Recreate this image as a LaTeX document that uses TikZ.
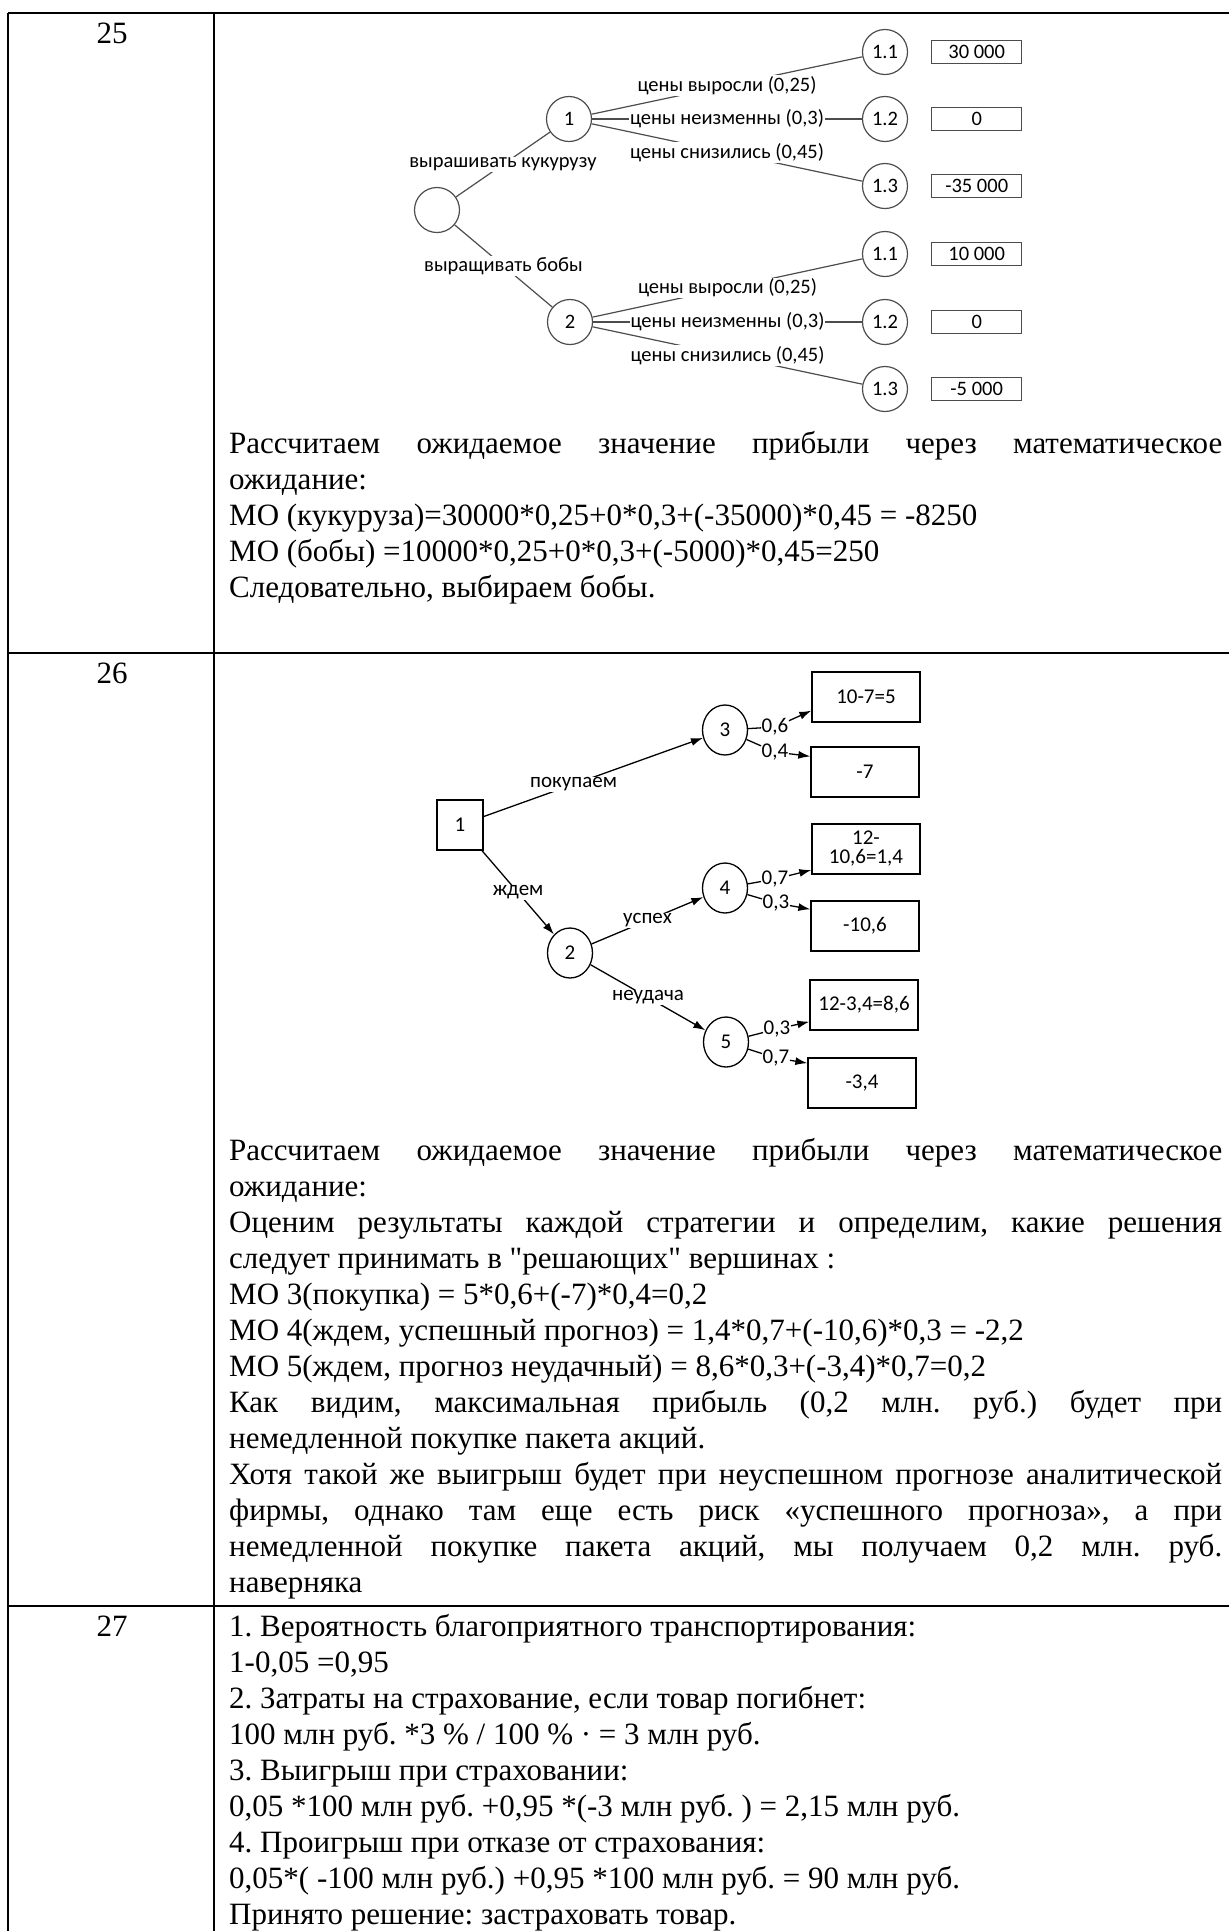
\documentclass[tikz,border=0pt]{standalone}
\usepackage{fontspec}
\setmainfont{Liberation Serif}
\newfontfamily\treefont{Carlito}
\usepackage{tikz}
\usetikzlibrary{positioning,shapes.geometric,arrows.meta}
\hyphenpenalty=10000
\exhyphenpenalty=10000
\frenchspacing

\begin{document}
\begin{tikzpicture}[x=1pt,y=-1pt,>={Latex[length=12pt,width=8pt]}]
    \tikzset{rule/.style={line width=2.6pt},
      rownum/.style={anchor=base,inner sep=0pt,font=\fontsize{31}{36}\selectfont},
      answer/.style={anchor=base west,inner sep=0pt,text width=993pt,align=justify,font=\fontsize{31}{36}\selectfont},
      chance/.style={draw=black!70,line width=1.2pt,circle,minimum size=45pt,inner sep=0pt},
      payoff/.style={draw=black!70,line width=1.2pt,rectangle,minimum width=90pt,minimum height=23pt,inner sep=0pt},
      event/.style={draw,line width=1.3pt,ellipse,minimum width=45pt,minimum height=50pt,inner sep=0pt},
      decide/.style={draw,line width=1.3pt,rectangle,minimum width=46pt,minimum height=50pt,inner sep=0pt},
      outcome/.style={draw,line width=1.3pt,rectangle,minimum width=108pt,minimum height=50pt,inner sep=0pt},
      lbl/.style={fill=white,inner sep=1pt},
      prob/.style={inner sep=0.5pt}}
    \useasboundingbox (0,0) rectangle (1229,1931);
    % table
    \draw[rule] (8,13) -- (1229,13);
    \draw[rule] (8,13) -- (8,1931);
    \draw[rule] (214,13) -- (214,1931);
    \draw[rule] (8,653) -- (1229,653);
    \draw[rule] (8,1606) -- (1229,1606);
    \node[rownum] (n25) at (112,43) {25};
    \node[rownum] (n26) at (112,683) {26};
    \node[rownum] (n27) at (112,1636) {27};

    % task 25
    \begin{scope}[font=\treefont\fontsize{20.5}{24}\selectfont]
    \node[chance] (r0) at (437,210) {};
    \node[chance] (c1) at (569,119) {1};
    \node[chance] (c2) at (570,322) {2};
    \node[chance] (c11) at (885,52) {1.1};
    \node[chance] (c12) at (885,119) {1.2};
    \node[chance] (c13) at (885,186) {1.3};
    \node[chance] (c21) at (885,254) {1.1};
    \node[chance] (c22) at (885,322) {1.2};
    \node[chance] (c23) at (885,389) {1.3};
    \node[payoff] (v11) [right=23pt of c11] {30 000};
    \node[payoff] (v12) [right=23pt of c12] {0};
    \node[payoff] (v13) [right=23pt of c13] {-35 000};
    \node[payoff] (v21) [right=23pt of c21] {10 000};
    \node[payoff] (v22) [right=23pt of c22] {0};
    \node[payoff] (v23) [right=23pt of c23] {-5 000};
    \path[draw=black!70,line width=1.2pt]
    (r0)
    edge node[lbl] {вырашивать кукурузу} (c1)
    edge node[lbl] {выращивать бобы} (c2)
    (c1)
    edge node[lbl] {цены выросли (0,25)} (c11)
    edge node[lbl] {цены неизменны (0,3)} (c12)
    edge node[lbl] {цены снизились (0,45)} (c13)
    (c2)
    edge node[lbl] {цены выросли (0,25)} (c21)
    edge node[lbl] {цены неизменны (0,3)} (c22)
    edge node[lbl] {цены снизились (0,45)} (c23)
    ;
    \end{scope}
    \node[answer] (t25) at (229,453) {Рассчитаем ожидаемое значение прибыли через математическое\linebreak
      ожидание:\\
      МО (кукуруза)=30000*0,25+0*0,3+(-35000)*0,45 = -8250\\
      МО (бобы) =10000*0,25+0*0,3+(-5000)*0,45=250\\
      Следовательно, выбираем бобы.};

    % task 26
    \begin{scope}[font=\treefont\fontsize{21}{24}\selectfont]
    \node[decide] (d1) at (460,825) {1};
    \node[event] (e3) at (725,730) {3};
    \node[event] (e2) at (570,953) {2};
    \node[event] (e4) at (725,888) {4};
    \node[event] (e5) at (726,1042) {5};
    \node[outcome] (o3a) at (866,697) {10-7=5};
    \node[outcome] (o3b) at (865,772) {-7};
    \node[outcome,align=center,font=\treefont\fontsize{21}{19}\selectfont] (o4a) at (866,849) {12-\\10,6=1,4};
    \node[outcome] (o4b) at (865,926) {-10,6};
    \node[outcome] (o5a) at (864,1005) {12-3,4=8,6};
    \node[outcome] (o5b) at (862,1083) {-3,4};
    \node[prob] (p36) at (775,727) {0,6};
    \node[prob] (p34) at (775,752) {0,4};
    \node[prob] (p47) at (775,879) {0,7};
    \node[prob] (p43) at (776,903) {0,3};
    \node[prob] (p53) at (777,1029) {0,3};
    \node[prob] (p57) at (776,1058) {0,7};
    \path[->,line width=1.3pt]
    (d1)
    edge node[lbl,pos=0.41] {покупаем} (e3)
    edge node[lbl] {ждем} (e2)
    (e2)
    edge node[lbl] {успех} (e4)
    edge node[lbl] {неудача} (e5)
    (p36) edge (o3a.194)
    (p34) edge (o3b.164)
    (p47) edge (o4a.201)
    (p43) edge (o4b.163)
    (p53) edge (o5a.197)
    (p57) edge (o5b.160)
    ;
    \path[line width=1.3pt]
    (e3) edge (p36) edge (p34)
    (e4) edge (p47) edge (p43)
    (e5) edge (p53) edge (p57)
    ;
    \end{scope}
    \node[answer] (t26) at (229,1160) {Рассчитаем ожидаемое значение прибыли через математическое\linebreak
      ожидание:\\
      Оценим результаты каждой стратегии и определим, какие решения\linebreak
      следует принимать в \textquotedbl решающих\textquotedbl{} вершинах :\\
      МО 3(покупка) = 5*0,6+(-7)*0,4=0,2\\
      МО 4(ждем, успешный прогноз) = 1,4*0,7+(-10,6)*0,3 = -2,2\\
      МО 5(ждем, прогноз неудачный) = 8,6*0,3+(-3,4)*0,7=0,2\\
      Как видим, максимальная прибыль (0,2 млн. руб.) будет при\linebreak
      немедленной покупке пакета акций.\\
      Хотя такой же выигрыш будет при неуспешном прогнозе аналитической\linebreak
      фирмы, однако там еще есть риск «успешного прогноза», а при\linebreak
      немедленной покупке пакета акций, мы получаем 0,2 млн. руб.\linebreak
      наверняка};

    % task 27
    \node[answer] (t27) at (229,1636) {1. Вероятность благоприятного транспортирования:\\
      1-0,05 =0,95\\
      2. Затраты на страхование, если товар погибнет:\\
      100 млн руб. *3 \% / 100 \% · = 3 млн руб.\\
      3. Выигрыш при страховании:\\
      0,05 *100 млн руб. +0,95 *(-3 млн руб. ) = 2,15 млн руб.\\
      4. Проигрыш при отказе от страхования:\\
      0,05*( -100 млн руб.) +0,95 *100 млн руб. = 90 млн руб.\\
      Принято решение: застраховать товар.};
\end{tikzpicture}
\end{document}
